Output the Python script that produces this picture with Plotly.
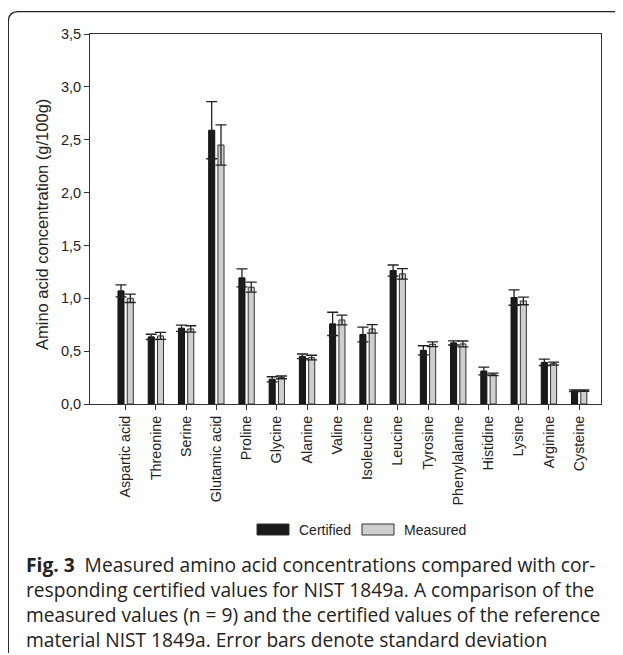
import plotly.graph_objects as go

amino_acids = ["Aspartic acid", "Threonine", "Serine", "Glutamic acid", "Proline",
               "Glycine", "Alanine", "Valine", "Isoleucine", "Leucine", "Tyrosine",
               "Phenylalanine", "Histidine", "Lysine", "Arginine", "Cysteine"]
certified = [1.07, 0.635, 0.717, 2.59, 1.193, 0.234, 0.451, 0.758, 0.657, 1.262,
             0.508, 0.578, 0.312, 1.007, 0.394, 0.126]
certified_sd = [0.057, 0.025, 0.030, 0.27, 0.086, 0.024, 0.022, 0.110, 0.070, 0.053,
                0.043, 0.020, 0.037, 0.073, 0.030, 0.008]
measured = [1.00, 0.644, 0.710, 2.45, 1.105, 0.252, 0.439, 0.795, 0.710, 1.231,
            0.565, 0.568, 0.281, 0.975, 0.382, 0.126]
measured_sd = [0.040, 0.033, 0.030, 0.19, 0.047, 0.013, 0.022, 0.046, 0.040, 0.049,
               0.022, 0.028, 0.012, 0.036, 0.015, 0.007]
y_ticks = [0, 0.5, 1.0, 1.5, 2.0, 2.5, 3.0, 3.5]
y_ticklabels = ["0,0", "0,5", "1,0", "1,5", "2,0", "2,5", "3,0", "3,5"]
y_title = "Amino acid concentration (g/100g)"

OFF = 8  # page body margin
W, H = 623 - OFF, 655 - OFF
L, R, T, B = 90 - OFF, 601 - OFF, 34 - OFF, 404 - OFF  # plot area in figure pixels

def px(x):
    return (x - OFF - L) / (R - L)

def py(y):
    return (B - (y - OFF)) / (B - T)

xs = list(range(len(amino_acids)))
fig = go.Figure()
fig.add_trace(go.Bar(
    x=xs, y=certified, name="Certified", width=0.2, offset=-0.255,
    marker=dict(color="#1a1a1a", line=dict(color="#111111", width=1)),
    error_y=dict(type="data", array=certified_sd, visible=True,
                 color="#222222", thickness=1.3, width=5.5),
))
fig.add_trace(go.Bar(
    x=xs, y=measured, name="Measured", width=0.2, offset=0.052,
    marker=dict(color="#cfcfcf", line=dict(color="#333333", width=1)),
    error_y=dict(type="data", array=measured_sd, visible=True,
                 color="#222222", thickness=1.3, width=5.5),
))

font_main = "Liberation Sans, Arial, sans-serif"
fig.update_layout(
    width=W, height=H,
    margin=dict(l=L, r=W - R, t=T, b=H - B),
    plot_bgcolor="white", paper_bgcolor="white",
    showlegend=False, barmode="overlay",
    font=dict(family=font_main, size=14, color="#222222"),
    xaxis=dict(range=[-1.18, 15.72], tickvals=xs, ticktext=amino_acids,
               tickangle=-90, ticks="outside", ticklen=5, tickcolor="#333333",
               showline=True, linecolor="#333333", linewidth=1, mirror=True,
               showgrid=False, zeroline=False,
               tickfont=dict(family=font_main, size=14.3, color="#222222")),
    yaxis=dict(range=[0, 3.5], tickvals=y_ticks, ticktext=y_ticklabels,
               ticks="outside", ticklen=5, tickcolor="#333333",
               showline=True, linecolor="#333333", linewidth=1, mirror=True,
               showgrid=False, zeroline=False,
               tickfont=dict(family=font_main, size=14.5, color="#222222")),
)

# y-axis title
fig.add_annotation(xref="paper", yref="paper", x=px(42), y=py(225),
                   text=y_title, textangle=-90, showarrow=False,
                   xanchor="center", yanchor="middle",
                   font=dict(family=font_main, size=16.5, color="#222222"))

# outer frame with rounded corner
x0, y0 = px(8.3), py(653)
xc, yc = px(8.3), py(22)
xt, yt = px(18.3), py(11.7)
xr = px(640)
fig.add_shape(type="path", xref="paper", yref="paper",
              path=f"M {x0} {y0} L {xc} {yc} Q {xc} {yt} {xt} {yt} L {xr} {yt}",
              line=dict(color="#222222", width=1.3))

# legend
for (lx, col, txt, tx) in [(257, "#1a1a1a", "Certified", 297), (362, "#cfcfcf", "Measured", 402)]:
    fig.add_shape(type="rect", xref="paper", yref="paper",
                  x0=px(lx), x1=px(lx + 32), y0=py(535), y1=py(524),
                  fillcolor=col, line=dict(color="#333333", width=1))
    fig.add_annotation(xref="paper", yref="paper", x=px(tx), y=py(529.5),
                       text=txt, showarrow=False, xanchor="left", yanchor="middle",
                       font=dict(family=font_main, size=14, color="#222222"))

# caption
cap_font = "Open Sans, Noto Sans, sans-serif"
lines = [
    "<b>Fig. 3</b>  Measured amino acid concentrations compared with cor-",
    "responding certified values for NIST 1849a. A comparison of the",
    "measured values (n = 9) and the certified values of the reference",
    "material NIST 1849a. Error bars denote standard deviation",
]
fig.add_annotation(xref="paper", yref="paper", x=px(24), y=py(602),
                   text="<br>".join(lines), showarrow=False, align="left",
                   xanchor="left", yanchor="middle",
                   font=dict(family=cap_font, size=19.2, color="#222222"))

fig.write_html("out.html")
